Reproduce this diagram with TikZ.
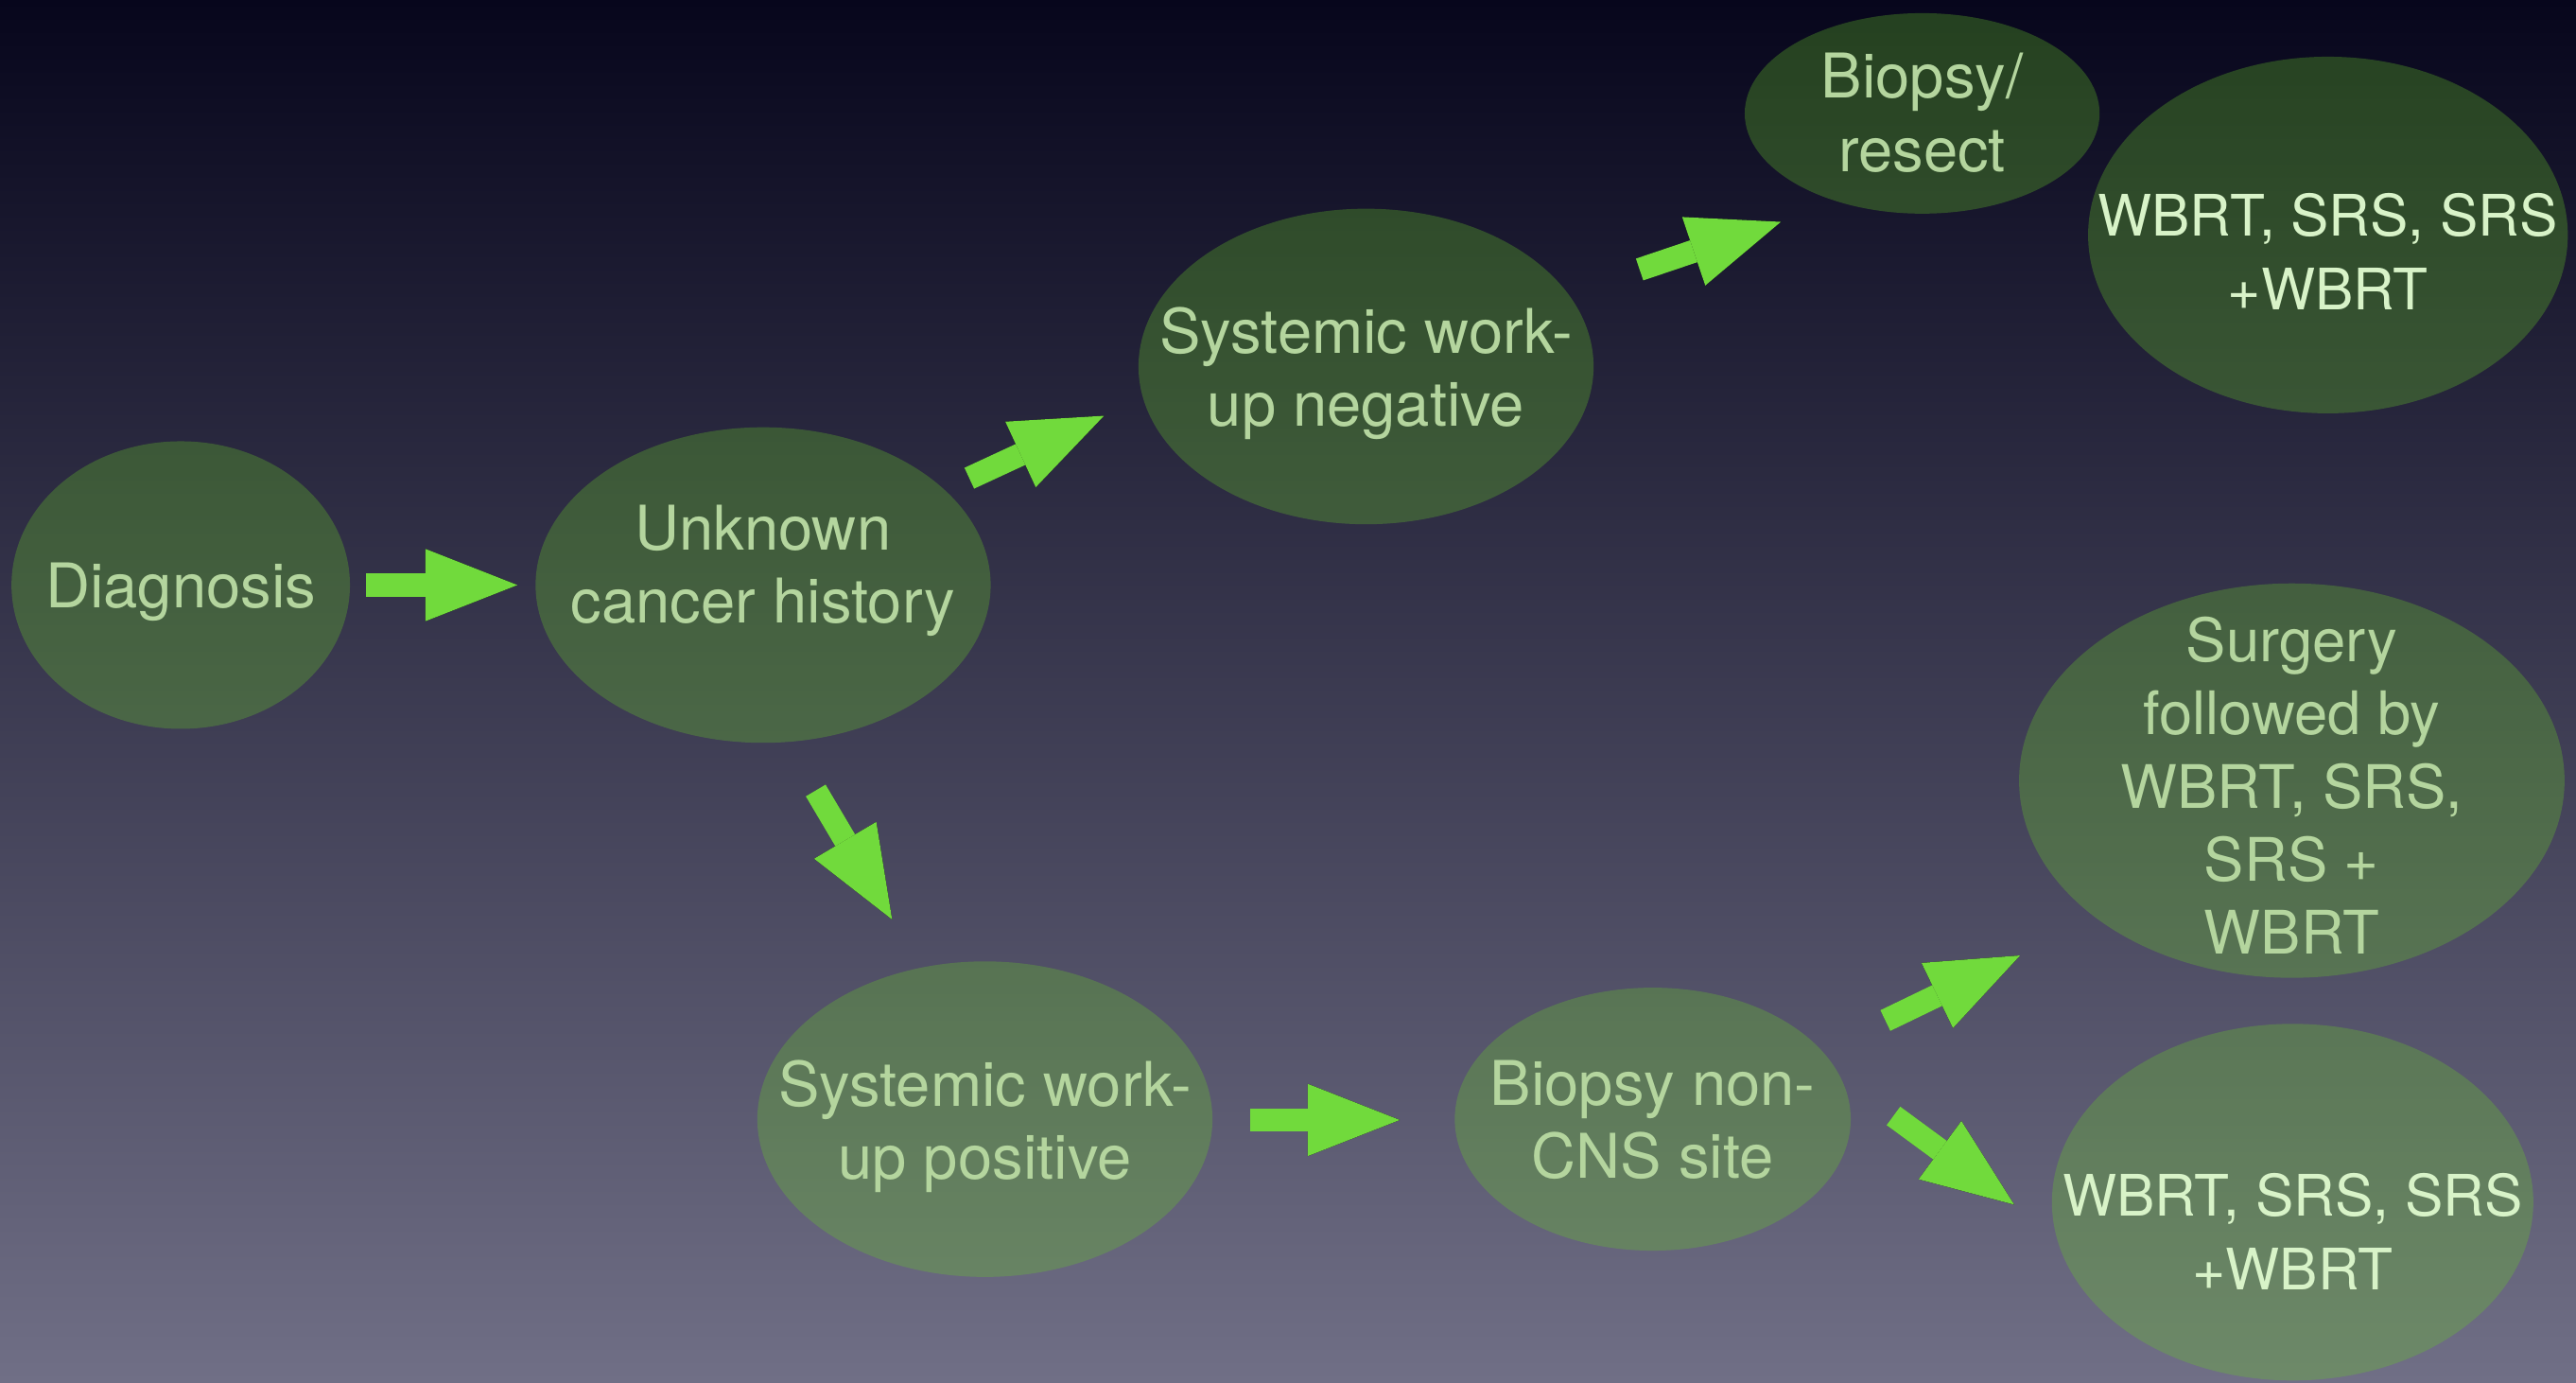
\documentclass[tikz,border=0pt]{standalone}
\usepackage{fontspec}
\setmainfont{TeX Gyre Heros}
\usetikzlibrary{shapes.geometric,arrows.meta}
\definecolor{bgtop}{RGB}{7,6,28}
\definecolor{bgbot}{RGB}{112,111,134}
\definecolor{blobgreen}{RGB}{105,200,40}
\definecolor{arrowgreen}{RGB}{113,218,60}
\definecolor{txtgreen}{RGB}{180,213,158}
\definecolor{txtbright}{RGB}{216,243,200}
\tikzset{
  blob/.style={ellipse, draw=none, fill=blobgreen, fill opacity=0.3, inner sep=0pt, outer sep=0pt},
  txt/.style={text=txtgreen, align=center, inner sep=0pt, font=\fontsize{37.5pt}{44.5pt}\selectfont},
  surgtxt/.style={txt, font=\fontsize{36.5pt}{44.5pt}\selectfont},
  brighttxt/.style={txt, text=txtbright, font=\fontsize{34.8pt}{44.8pt}\selectfont},
  arr/.style={line width=14pt, draw=arrowgreen, line cap=butt,
    -{Triangle[length=56pt,width=44pt,line width=0pt]}},
  arrshadow/.style={line width=14pt, draw=black, draw opacity=0.28, line cap=butt,
    -{Triangle[length=56pt,width=44pt,line width=0pt]}, xshift=0.6pt, yshift=-2pt}
}
\begin{document}
\begin{tikzpicture}[x=1pt,y=-1pt]
\shade[top color=bgtop, bottom color=bgbot] (0,0) rectangle (1568,841);
\useasboundingbox (0,0) rectangle (1568,841);

% ellipses
\node[blob, minimum width=206pt, minimum height=175pt] (diag)  at (110,356) {};
\node[blob, minimum width=277pt, minimum height=192pt] (unk)   at (464.5,356) {};
\node[blob, minimum width=277pt, minimum height=192pt] (neg)   at (831.5,223) {};
\node[blob, minimum width=216pt, minimum height=122pt] (bres)  at (1170,69) {};
\node[blob, minimum width=292pt, minimum height=217pt] (wbrt1) at (1417,143) {};
\node[blob, minimum width=332pt, minimum height=240pt] (surg)  at (1395,475) {};
\node[blob, minimum width=293pt, minimum height=217pt] (wbrt2) at (1395.5,731.5) {};
\node[blob, minimum width=277pt, minimum height=192pt] (pos)   at (599.5,681) {};
\node[blob, minimum width=241pt, minimum height=160pt] (bnon)  at (1006,681) {};

% texts
\node[txt] (diag-t) at (110,360.3) {Diagnosis};
\node[txt] (unk-t) at (464.5,347.3) {Unknown\\cancer history};
\node[txt] (neg-t) at (831.5,227.3) {Systemic work-\\up negative};
\node[txt] (bres-t) at (1170,68.6) {Biopsy/\\resect};
\node[brighttxt] (wbrt1-t) at (1417,153) {WBRT, SRS, SRS\\+WBRT};
\node[surgtxt] (surg-t) at (1395,478) {Surgery\\followed by\\WBRT, SRS,\\SRS +\\WBRT};
\node[brighttxt] (wbrt2-t) at (1395.5,749.5) {WBRT, SRS, SRS\\+WBRT};
\node[txt] (pos-t) at (599.5,685.3) {Systemic work-\\up positive};
\node[txt] (bnon-t) at (1006,681.6) {Biopsy non-\\CNS site};

% arrow end points
\coordinate (a1s) at (223,356);     \coordinate (a1e) at (315,356);
\coordinate (a2s) at (590,291);     \coordinate (a2e) at (672,253);
\coordinate (a3s) at (998,164);     \coordinate (a3e) at (1084,135);
\coordinate (a4s) at (496.5,481);   \coordinate (a4e) at (543,559.5);
\coordinate (a5s) at (761,681.5);   \coordinate (a5e) at (852,681.5);
\coordinate (a6s) at (1147.6,621);  \coordinate (a6e) at (1229.6,581.4);
\coordinate (a7s) at (1152.5,679);  \coordinate (a7e) at (1226,733);

\foreach \i in {1,...,7}{
  \draw[arrshadow] (a\i s) -- (a\i e);
}
\foreach \i in {1,...,7}{
  \draw[arr] (a\i s) -- (a\i e);
}
\end{tikzpicture}
\end{document}
